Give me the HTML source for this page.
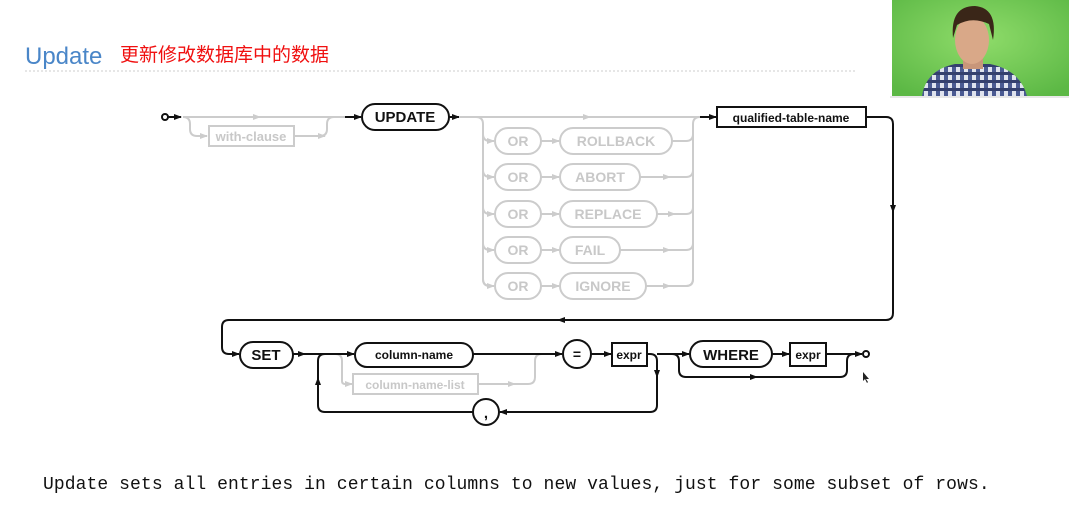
<!DOCTYPE html>
<html><head><meta charset="utf-8"><style>
body{margin:0;background:#fff;width:1069px;height:510px;overflow:hidden;position:relative;font-family:"Liberation Sans",sans-serif}
</style></head><body>
<svg width="1069" height="510" style="position:absolute;left:0;top:0" xmlns="http://www.w3.org/2000/svg">
<defs>
<marker id="a" markerWidth="8" markerHeight="8" refX="7" refY="4" orient="auto" markerUnits="userSpaceOnUse"><path d="M0,1 L8,4 L0,7z" fill="#111"/></marker>
<marker id="g" markerWidth="8" markerHeight="8" refX="7" refY="4" orient="auto" markerUnits="userSpaceOnUse"><path d="M0,1 L8,4 L0,7z" fill="#ccc"/></marker>
<radialGradient id="bg" cx="0.5" cy="0.4" r="0.7"><stop offset="0" stop-color="#8fdc6a"/><stop offset="1" stop-color="#5cb845"/></radialGradient>
<pattern id="pl" width="8" height="8" patternUnits="userSpaceOnUse"><rect width="8" height="8" fill="#dfe3ee"/><rect width="4" height="8" fill="#4a5a92"/><rect width="8" height="3" fill="#34406e"/></pattern>
</defs>
<text x="25" y="64" font-size="24" fill="#4a86c8" font-family="Liberation Sans,sans-serif">Update</text>
<text x="120" y="61" font-size="19" fill="#f01010" font-family="'Liberation Sans','Noto Sans CJK SC',sans-serif">更新修改数据库中的数据</text>
<line x1="25" y1="71" x2="855" y2="71" stroke="#ddd" stroke-width="1.5" stroke-dasharray="2,2"/>
<rect x="892" y="0" width="177" height="96" fill="url(#bg)"/>
<path d="M922,96 Q926,70 955,64 L990,64 Q1020,70 1027,96z" fill="url(#pl)"/>
<rect x="963" y="55" width="20" height="14" fill="#c8967a"/>
<ellipse cx="972" cy="40" rx="17" ry="24" fill="#d9a888"/>
<path d="M953,38 Q950,6 975,6 Q998,8 993,40 L989,24 Q972,16 957,25z" fill="#3a2618"/>
<rect x="890" y="96" width="179" height="2" fill="#e8e8e8"/>

<g fill="none" stroke-width="2" font-family="Liberation Sans,sans-serif" font-weight="bold">
<g stroke="#ccc">
<path d="M183,117 H345" />
<path d="M250,117 h10" marker-end="url(#g)"/>
<path d="M183,117 q7,0 7,7 v5 q0,7 7,7 h10" marker-end="url(#g)"/>
<rect x="209" y="126" width="85" height="20"/>
<path d="M294,136 H325" marker-end="url(#g)"/>
<path d="M320,136 q7,0 7,-7 v-5 q0,-7 7,-7"/>
<path d="M460,117 H700"/>
<path d="M580,117 h10" marker-end="url(#g)"/>
<path d="M476,117 q7,0 7,7 V279 q0,7 7,7"/>
<path d="M700,117 q-7,0 -7,7 V279 q0,7 -7,7"/>
</g>
<g stroke="#ccc" fill="none">
<path d="M483,134 q0,7 7,7 h4" marker-end="url(#g)"/><rect x="495" y="128" width="46" height="26" rx="13"/><path d="M541,141 h18" marker-end="url(#g)"/><rect x="560" y="128" width="112" height="26" rx="13"/><path d="M672,141 h14 q7,0 7,-7"/>
<path d="M483,170 q0,7 7,7 h4" marker-end="url(#g)"/><rect x="495" y="164" width="46" height="26" rx="13"/><path d="M541,177 h18" marker-end="url(#g)"/><rect x="560" y="164" width="80" height="26" rx="13"/><path d="M640,177 h46 q7,0 7,-7"/><path d="M660,177 h10" marker-end="url(#g)"/>
<path d="M483,207 q0,7 7,7 h4" marker-end="url(#g)"/><rect x="495" y="201" width="46" height="26" rx="13"/><path d="M541,214 h18" marker-end="url(#g)"/><rect x="560" y="201" width="97" height="26" rx="13"/><path d="M657,214 h29 q7,0 7,-7"/><path d="M665,214 h10" marker-end="url(#g)"/>
<path d="M483,243 q0,7 7,7 h4" marker-end="url(#g)"/><rect x="495" y="237" width="46" height="26" rx="13"/><path d="M541,250 h18" marker-end="url(#g)"/><rect x="560" y="237" width="60" height="26" rx="13"/><path d="M620,250 h66 q7,0 7,-7"/><path d="M660,250 h10" marker-end="url(#g)"/>
<path d="M483,279 q0,7 7,7 h4" marker-end="url(#g)"/><rect x="495" y="273" width="46" height="26" rx="13"/><path d="M541,286 h18" marker-end="url(#g)"/><rect x="560" y="273" width="86" height="26" rx="13"/><path d="M646,286 h40 q7,0 7,-7"/><path d="M660,286 h10" marker-end="url(#g)"/>
<path d="M335,354 q7,0 7,7 v20 q0,3 3,3 h7" marker-end="url(#g)"/>
<rect x="353" y="374" width="125" height="20"/>
<path d="M478,384 h50 q7,0 7,-7 v-16 q0,-7 7,-7"/>
<path d="M505,384 h10" marker-end="url(#g)"/>
</g>
<g font-size="14" fill="#c8c8c8" stroke="none" font-weight="bold">
<text x="251" y="141" text-anchor="middle" font-size="13">with-clause</text>
<text x="518" y="146" text-anchor="middle">OR</text><text x="616" y="146" text-anchor="middle">ROLLBACK</text>
<text x="518" y="182" text-anchor="middle">OR</text><text x="600" y="182" text-anchor="middle">ABORT</text>
<text x="518" y="219" text-anchor="middle">OR</text><text x="608" y="219" text-anchor="middle">REPLACE</text>
<text x="518" y="255" text-anchor="middle">OR</text><text x="590" y="255" text-anchor="middle">FAIL</text>
<text x="518" y="291" text-anchor="middle">OR</text><text x="603" y="291" text-anchor="middle">IGNORE</text>
<text x="415" y="389" text-anchor="middle" font-size="12">column-name-list</text>
</g>
<g stroke="#111">
<circle cx="165" cy="117" r="3"/>
<path d="M168,117 h13" marker-end="url(#a)"/>
<path d="M345,117 h16" marker-end="url(#a)"/>
<rect x="362" y="104" width="87" height="26" rx="13"/>
<path d="M449,117 h10" marker-end="url(#a)"/>
<path d="M700,117 h16" marker-end="url(#a)"/>
<rect x="717" y="107" width="149" height="20"/>
<path d="M866,117 h20 q7,0 7,7 V313 q0,7 -7,7 H229 q-7,0 -7,7 v20 q0,7 7,7 h10" marker-end="url(#a)"/>
<path d="M893,200 v12" marker-end="url(#a)"/>
<path d="M570,320 h-12" marker-end="url(#a)"/>
<rect x="240" y="342" width="53" height="26" rx="13"/>
<path d="M293,354 h12" marker-end="url(#a)"/>
<path d="M305,354 h49" marker-end="url(#a)"/>
<rect x="355" y="343" width="118" height="24" rx="12"/>
<path d="M473,354 h89" marker-end="url(#a)"/>
<circle cx="577" cy="354" r="14"/>
<path d="M591,354 h20" marker-end="url(#a)"/>
<rect x="612" y="343" width="35" height="23"/>
<path d="M647,354 h3 q7,0 7,7 V405 q0,7 -7,7 H500" marker-end="url(#a)"/>
<path d="M657,365 v12" marker-end="url(#a)"/>
<circle cx="486" cy="412" r="13"/>
<path d="M473,412 H325 q-7,0 -7,-7 V361 q0,-7 7,-7 h10"/>
<path d="M318,390 v-12" marker-end="url(#a)"/>
<path d="M657,354 h32" marker-end="url(#a)"/>
<rect x="690" y="341" width="82" height="26" rx="13"/>
<path d="M772,354 h17" marker-end="url(#a)"/>
<rect x="790" y="343" width="36" height="23"/>
<path d="M826,354 h36" marker-end="url(#a)"/>
<path d="M672,354 q7,0 7,7 v9 q0,7 7,7 H840 q7,0 7,-7 v-9 q0,-7 7,-7"/>
<path d="M745,377 h12" marker-end="url(#a)"/>
<circle cx="866" cy="354" r="3"/>
</g>
<g fill="#111" stroke="none">
<text x="405" y="122" text-anchor="middle" font-size="15">UPDATE</text>
<text x="791" y="122" text-anchor="middle" font-size="12">qualified-table-name</text>
<text x="266" y="360" text-anchor="middle" font-size="15">SET</text>
<text x="414" y="359" text-anchor="middle" font-size="12">column-name</text>
<text x="577" y="359" text-anchor="middle" font-size="14">=</text>
<text x="629" y="359" text-anchor="middle" font-size="12">expr</text>
<text x="486" y="418" text-anchor="middle" font-size="15">,</text>
<text x="731" y="360" text-anchor="middle" font-size="15">WHERE</text>
<text x="808" y="359" text-anchor="middle" font-size="12">expr</text>
</g>
</g>
<path d="M863,372 l0,9 l2,-2 l2,4 l1,-1 l-2,-3 l3,0z" fill="#222"/>
<text x="43" y="489" font-size="18" letter-spacing="0.08" fill="#111" font-family="Liberation Mono,monospace">Update sets all entries in certain columns to new values, just for some subset of rows.</text>
</svg>
</body></html>
